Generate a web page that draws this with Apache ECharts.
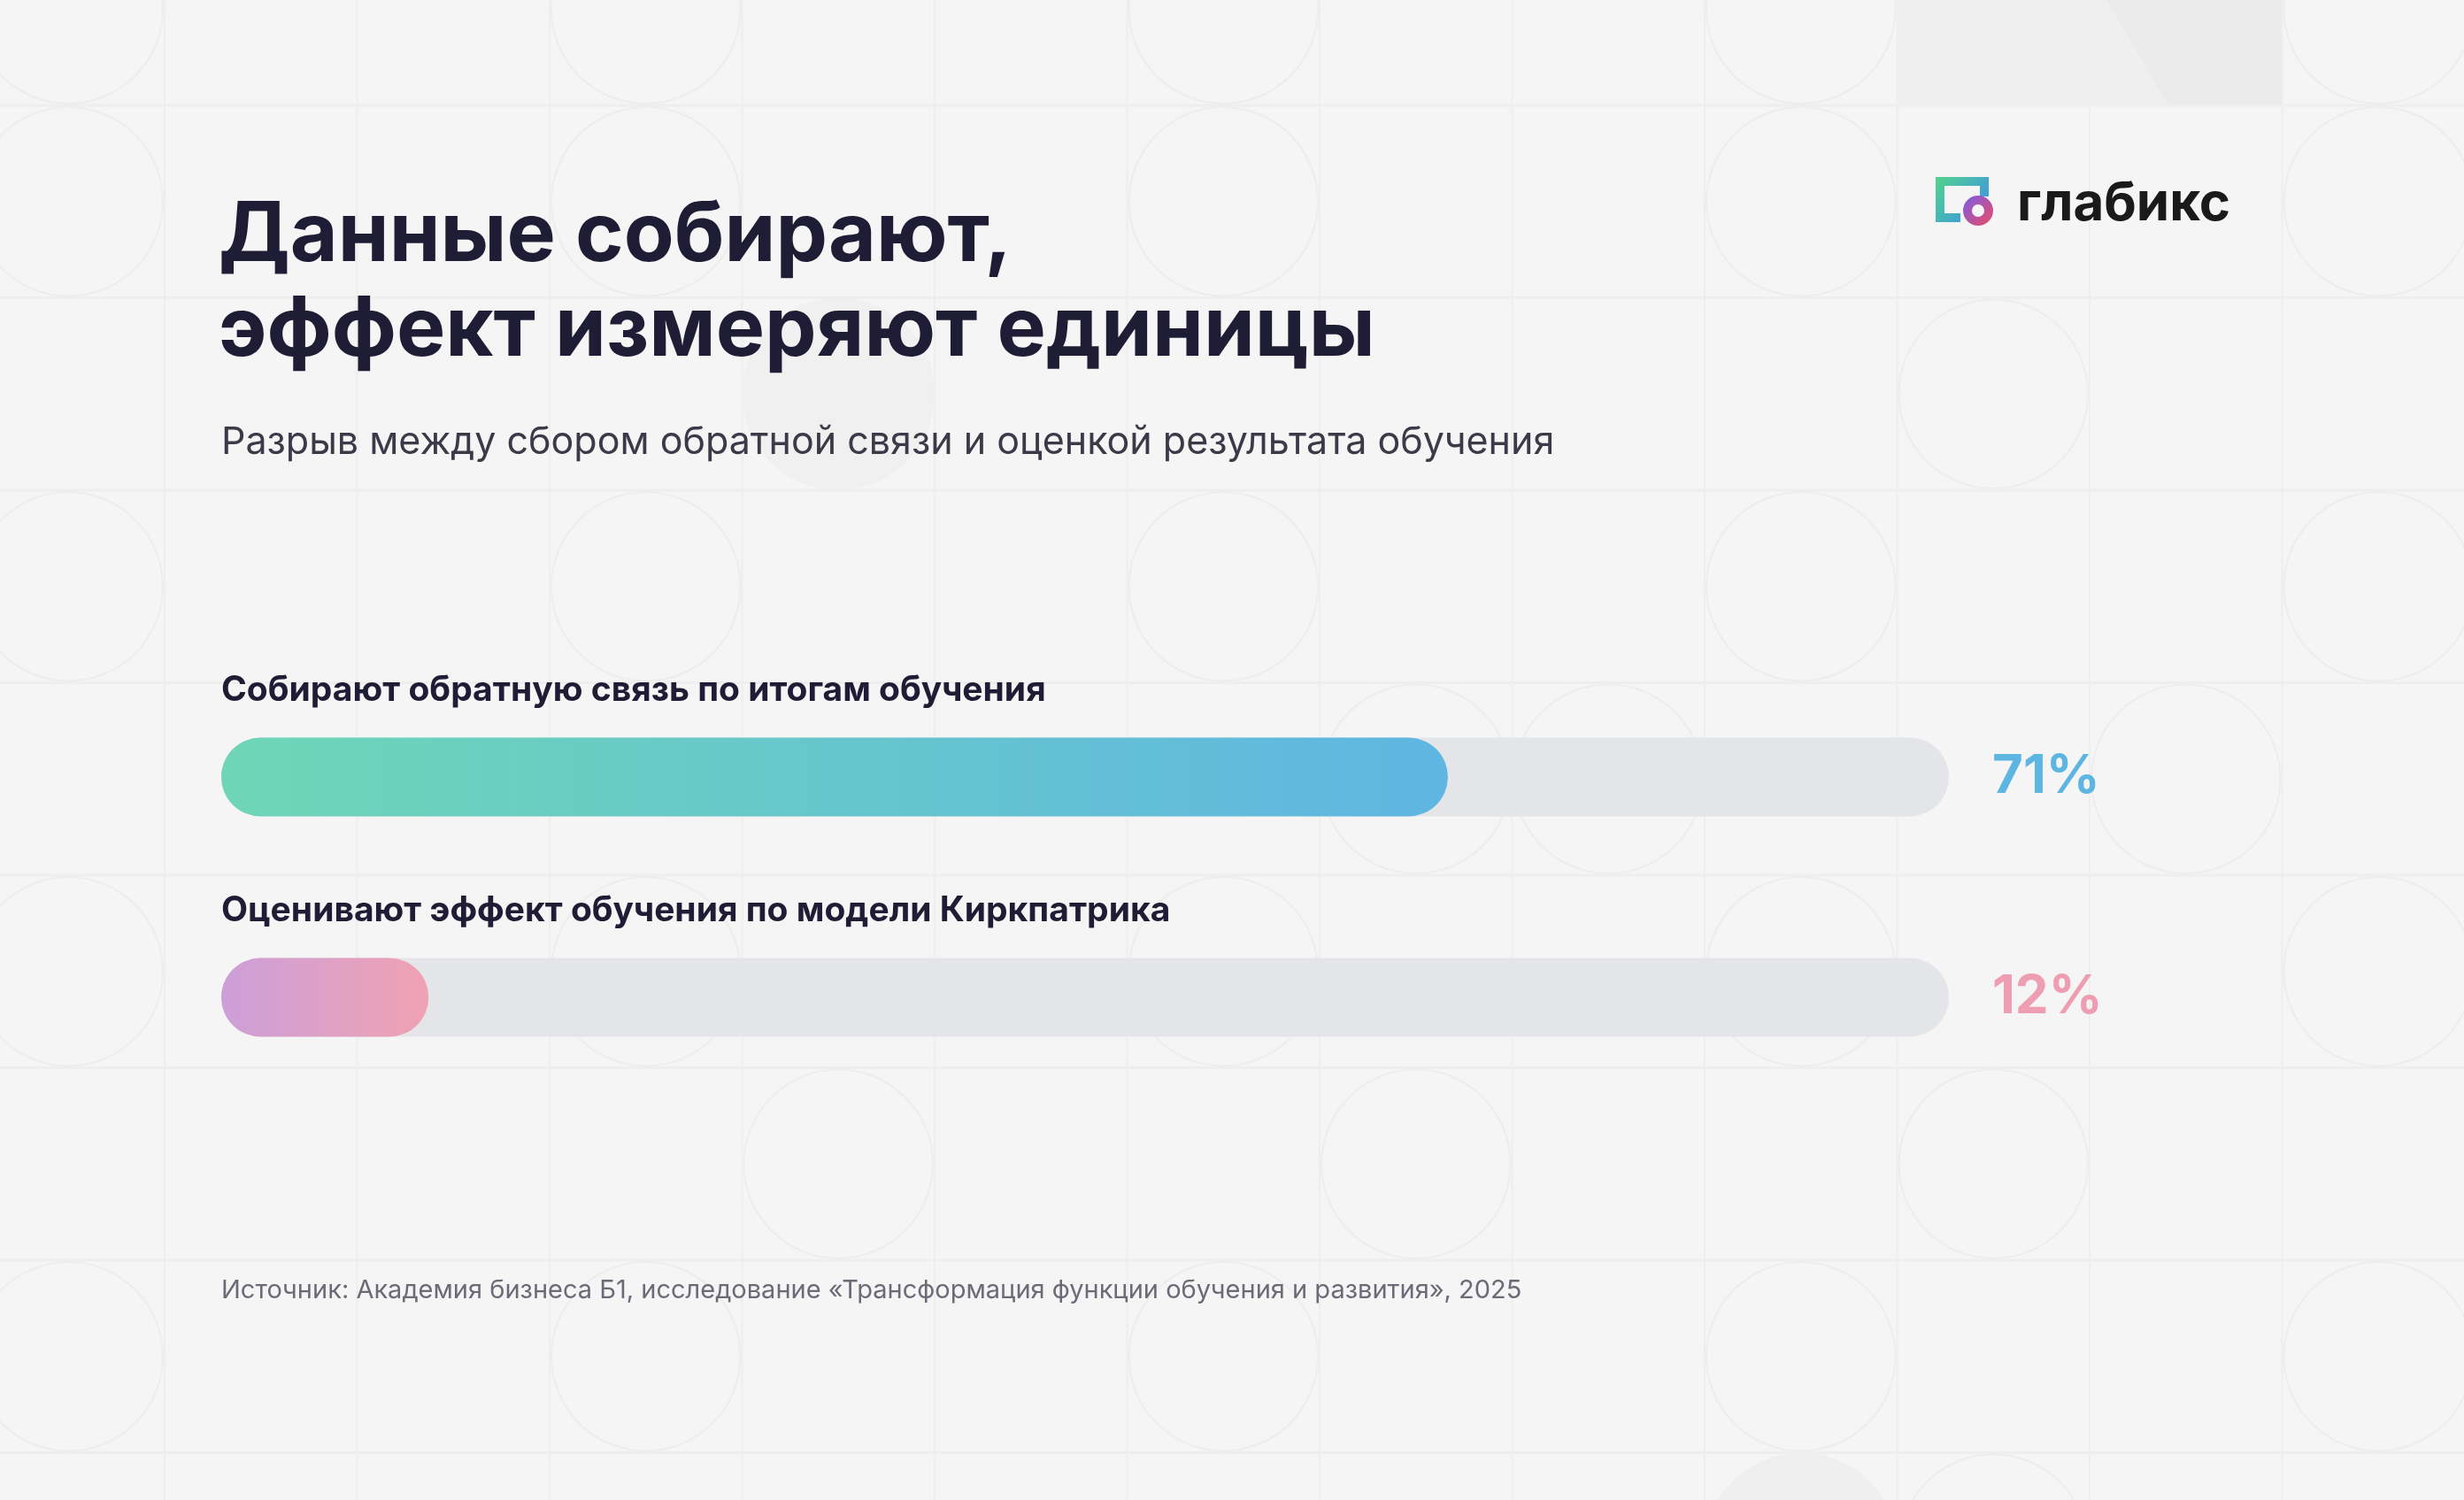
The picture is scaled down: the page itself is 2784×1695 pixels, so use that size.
<!DOCTYPE html>
<html>
<head>
<meta charset="utf-8">
<script src="https://cdn.jsdelivr.net/npm/echarts@6/dist/echarts.min.js"></script>
<style>
html,body{margin:0;padding:0;background:#f5f5f5;}
#chart{width:2784px;height:1695px;}
</style>
</head>
<body>
<div id="chart"></div>
<script>
// ---- data ----
const titleLines = ['Данные собирают,', 'эффект измеряют единицы'];
const subtitleText = 'Разрыв между сбором обратной связи и оценкой результата обучения';
const sourceText = 'Источник: Академия бизнеса Б1, исследование «Трансформация функции обучения и развития», 2025';
const brandName = 'глабикс';
const categories = ['Собирают обратную связь по итогам обучения', 'Оценивают эффект обучения по модели Киркпатрика'];
const values = [71, 12];
const scaleMax = 100;
const gradientStops = [['#6ed6b6', '#5fb6e2'], ['#cc9fd9', '#f0a2b2']];
const valueColors = ['#5db6e2', '#ee9db3'];

// ---- decoration (background pattern) ----
const deco = [];
const cell = 217.5, ox = 186, oy = 119;
const lineColor = '#eeeeee';
for (let i = -1; i < 13; i++) {
  const x = ox + i * cell;
  deco.push({type:'line', silent:true, z:-10, shape:{x1:x,y1:0,x2:x,y2:1695}, style:{stroke:lineColor,lineWidth:2}});
}
for (let j = -1; j < 8; j++) {
  const y = oy + j * cell;
  deco.push({type:'line', silent:true, z:-10, shape:{x1:0,y1:y,x2:2784,y2:y}, style:{stroke:lineColor,lineWidth:3}});
}
// top-right shaded cell
deco.push({type:'rect', silent:true, z:-11, shape:{x:ox+9*cell, y:0, width:2*cell, height:oy}, style:{fill:'#efefef'}});
deco.push({type:'polygon', silent:true, z:-11, shape:{points:[[2380,0],[ox+11*cell,0],[ox+11*cell,oy],[2450,oy]]}, style:{fill:'#ebebeb'}});
const circleCells = [];
[-1,0,2,4,6].forEach(j => [-1,2,5,8,11].forEach(i => circleCells.push([i,j])));
circleCells.push([6,3],[7,3],[10,3],[3,5],[6,5],[9,5],[9,1],[9,7]);
circleCells.forEach(([i,j]) => {
  deco.push({type:'circle', silent:true, z:-10, shape:{cx:ox+i*cell+cell/2, cy:oy+j*cell+cell/2, r:cell/2-2}, style:{fill:'none', stroke:'#ededed', lineWidth:2}});
});
deco.push({type:'circle', silent:true, z:-11, shape:{cx:ox+8*cell+cell/2, cy:oy+7*cell+cell/2, r:cell/2}, style:{fill:'#efefef'}});
deco.push({type:'circle', silent:true, z:-11, shape:{cx:ox+3*cell+cell/2, cy:oy+1*cell+cell/2, r:cell/2}, style:{fill:'#f0f0f0'}});

// ---- logo ----
const iconGrad = new echarts.graphic.LinearGradient(0, 0, 1, 1, [{offset:0,color:'#52d48a'},{offset:1,color:'#3a8cf2'}]);
const ringGrad = new echarts.graphic.LinearGradient(0, 0, 1, 1, [{offset:0,color:'#7a5ee6'},{offset:1,color:'#ec4a66'}]);
const logo = [
  {type:'polyline', silent:true, shape:{points:[[2215,246],[2192,246],[2192,205],[2242,205],[2242,222]]}, style:{stroke:iconGrad, lineWidth:10, fill:'none', lineJoin:'miter'}},
  {type:'ring', silent:true, shape:{cx:2235, cy:238, r:17, r0:7}, style:{fill:ringGrad}},
  {type:'text', silent:true, style:{x:2279, y:231, text:brandName, font:'700 60px Inter', fill:'#1a1a1a', verticalAlign:'middle'}}
];

// ---- texts ----
const texts = [
  {type:'text', silent:true, style:{x:247, y:267, text:titleLines[0], font:'700 93px Inter', fill:'#1f1d36', verticalAlign:'middle'}},
  {type:'text', silent:true, style:{x:247, y:374, text:titleLines[1], font:'700 93px Inter', fill:'#1f1d36', verticalAlign:'middle'}},
  {type:'text', silent:true, style:{x:250, y:500, text:subtitleText, font:'400 43px Inter', fill:'#3a3a48', verticalAlign:'middle'}},
  {type:'text', silent:true, style:{x:250, y:1458, text:sourceText, font:'400 29px Inter', fill:'#6b6b78', verticalAlign:'middle'}}
];

const chart = echarts.init(document.getElementById('chart'), null, {renderer:'canvas'});
chart.setOption({
  backgroundColor:'#f5f5f5',
  animation:false,
  textStyle:{fontFamily:'Inter'},
  graphic: deco.concat(logo, texts),
  grid:{left:250, width:1952, top:753.5, height:498},
  xAxis:{type:'value', min:0, max:scaleMax, show:false},
  yAxis:{type:'category', data:categories, inverse:true, show:false},
  series:[
    {
      name:'track', type:'bar', barWidth:89, z:2,
      itemStyle:{color:'#e4e5e8', borderRadius:44.5},
      data: categories.map((c, i) => ({
        value: scaleMax,
        label:{show:true, position:'right', distance:49, formatter: values[i] + '%', color:valueColors[i], fontSize:60, fontWeight:700, fontFamily:'Inter'}
      }))
    },
    {
      name:'value', type:'bar', barWidth:89, barGap:'-100%', z:3,
      data: values.map((v, i) => ({
        value: v,
        itemStyle:{borderRadius:44.5, color:new echarts.graphic.LinearGradient(0,0,1,0,[{offset:0,color:gradientStops[i][0]},{offset:1,color:gradientStops[i][1]}])},
        label:{show:true, position:[0,-53], align:'left', verticalAlign:'middle', formatter: categories[i], color:'#1f1d36', fontSize:39, fontWeight:700, fontFamily:'Inter'}
      }))
    }
  ]
});
</script>
</body>
</html>
